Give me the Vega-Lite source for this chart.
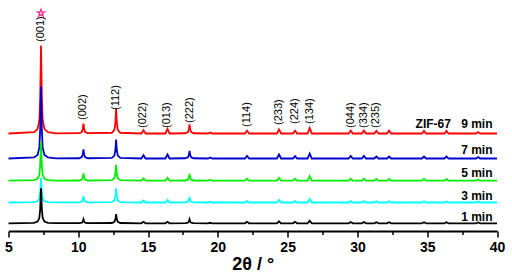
{
  "$schema": "https://vega.github.io/schema/vega-lite/v6.json",
  "width": 488.5,
  "height": 231,
  "autosize": "none",
  "padding": {"left": 8.5, "right": 15, "top": 0, "bottom": 43},
  "config": {"view": {"stroke": null}},
  "datasets": {
    "r9": [
      {"x":5,"y":97.5},{"x":6.83,"y":98.8},{"x":7.08,"y":101.9},{"x":7.21,"y":110.7},{"x":7.27,"y":132.7},{"x":7.33,"y":185.5},{"x":7.39,"y":132.7},{"x":7.45,"y":110.7},{"x":7.58,"y":101.9},{"x":7.83,"y":98.8},{"x":8.4,"y":97.6},
      {"x":10.07,"y":97.8},{"x":10.25,"y":99},{"x":10.32,"y":102},{"x":10.37,"y":107.5},{"x":10.42,"y":102},{"x":10.49,"y":99},{"x":10.67,"y":97.8},
      {"x":12.41,"y":98.25},{"x":12.59,"y":101.25},{"x":12.66,"y":108.75},{"x":12.71,"y":122.5},{"x":12.76,"y":108.75},{"x":12.83,"y":101.25},{"x":13.01,"y":98.25},
      {"x":14.52,"y":97.5},{"x":14.67,"y":100.8},{"x":14.82,"y":97.5},
      {"x":16.24,"y":97.5},{"x":16.39,"y":102},{"x":16.54,"y":97.5},
      {"x":17.67,"y":97.77},{"x":17.85,"y":98.85},{"x":17.92,"y":101.55},{"x":17.97,"y":106.5},{"x":18.02,"y":101.55},{"x":18.09,"y":98.85},{"x":18.27,"y":97.77},
      {"x":19.3,"y":97.5},{"x":19.45,"y":98.5},{"x":19.6,"y":97.5},
      {"x":21.94,"y":97.5},{"x":22.09,"y":100.2},{"x":22.24,"y":97.5},
      {"x":24.23,"y":97.5},{"x":24.38,"y":101.5},{"x":24.53,"y":97.5},
      {"x":25.38,"y":97.5},{"x":25.53,"y":100.2},{"x":25.68,"y":97.5},
      {"x":26.43,"y":97.5},{"x":26.58,"y":103},{"x":26.73,"y":97.5},
      {"x":29.37,"y":97.5},{"x":29.52,"y":100.5},{"x":29.67,"y":97.5},
      {"x":30.31,"y":97.5},{"x":30.46,"y":100.5},{"x":30.61,"y":97.5},
      {"x":31.21,"y":97.5},{"x":31.36,"y":100},{"x":31.51,"y":97.5},
      {"x":32.12,"y":97.5},{"x":32.27,"y":100.5},{"x":32.42,"y":97.5},
      {"x":34.62,"y":97.5},{"x":34.77,"y":100},{"x":34.92,"y":97.5},
      {"x":36.23,"y":97.5},{"x":36.38,"y":100},{"x":36.53,"y":97.5},
      {"x":38.5,"y":97.5},{"x":38.65,"y":99},{"x":38.8,"y":97.5},
      {"x":40,"y":97.5}
    ],
    "b7": [
      {"x":5,"y":72.5},{"x":6.83,"y":73.6},{"x":7.08,"y":76.1},{"x":7.21,"y":83.3},{"x":7.27,"y":101.3},{"x":7.33,"y":144.5},{"x":7.39,"y":101.3},{"x":7.45,"y":83.3},{"x":7.58,"y":76.1},{"x":7.83,"y":73.6},{"x":8.4,"y":72.6},
      {"x":10.07,"y":72.77},{"x":10.25,"y":73.85},{"x":10.32,"y":76.55},{"x":10.37,"y":81.5},{"x":10.42,"y":76.55},{"x":10.49,"y":73.85},{"x":10.67,"y":72.77},
      {"x":12.41,"y":73.07},{"x":12.59,"y":75.35},{"x":12.66,"y":81.05},{"x":12.71,"y":91.5},{"x":12.76,"y":81.05},{"x":12.83,"y":75.35},{"x":13.01,"y":73.07},
      {"x":14.52,"y":72.5},{"x":14.67,"y":75.8},{"x":14.82,"y":72.5},
      {"x":16.24,"y":72.5},{"x":16.39,"y":76.5},{"x":16.54,"y":72.5},
      {"x":17.67,"y":72.73},{"x":17.85,"y":73.64},{"x":17.92,"y":75.92},{"x":17.97,"y":80.1},{"x":18.02,"y":75.92},{"x":18.09,"y":73.64},{"x":18.27,"y":72.73},
      {"x":19.3,"y":72.5},{"x":19.45,"y":73.5},{"x":19.6,"y":72.5},
      {"x":21.94,"y":72.5},{"x":22.09,"y":75},{"x":22.24,"y":72.5},
      {"x":24.23,"y":72.5},{"x":24.38,"y":76.5},{"x":24.53,"y":72.5},
      {"x":25.38,"y":72.5},{"x":25.53,"y":74.8},{"x":25.68,"y":72.5},
      {"x":26.43,"y":72.5},{"x":26.58,"y":77.5},{"x":26.73,"y":72.5},
      {"x":29.37,"y":72.5},{"x":29.52,"y":75},{"x":29.67,"y":72.5},
      {"x":30.31,"y":72.5},{"x":30.46,"y":75},{"x":30.61,"y":72.5},
      {"x":31.21,"y":72.5},{"x":31.36,"y":74.5},{"x":31.51,"y":72.5},
      {"x":32.12,"y":72.5},{"x":32.27,"y":74.5},{"x":32.42,"y":72.5},
      {"x":34.62,"y":72.5},{"x":34.77,"y":74.5},{"x":34.92,"y":72.5},
      {"x":36.23,"y":72.5},{"x":36.38,"y":74.5},{"x":36.53,"y":72.5},
      {"x":38.5,"y":72.5},{"x":38.65,"y":74},{"x":38.8,"y":72.5},
      {"x":40,"y":72.5}
    ],
    "g5": [
      {"x":5,"y":50.3},{"x":6.83,"y":50.9},{"x":7.08,"y":52.25},{"x":7.21,"y":56.15},{"x":7.27,"y":65.9},{"x":7.33,"y":89.3},{"x":7.39,"y":65.9},{"x":7.45,"y":56.15},{"x":7.58,"y":52.25},{"x":7.83,"y":50.9},{"x":8.4,"y":50.4},
      {"x":10.07,"y":50.52},{"x":10.25,"y":51.41},{"x":10.32,"y":53.63},{"x":10.37,"y":57.7},{"x":10.42,"y":53.63},{"x":10.49,"y":51.41},{"x":10.67,"y":50.52},
      {"x":12.41,"y":50.78},{"x":12.59,"y":52.7},{"x":12.66,"y":57.5},{"x":12.71,"y":66.3},{"x":12.76,"y":57.5},{"x":12.83,"y":52.7},{"x":13.01,"y":50.78},
      {"x":14.52,"y":50.3},{"x":14.67,"y":52.6},{"x":14.82,"y":50.3},
      {"x":16.24,"y":50.3},{"x":16.39,"y":53.3},{"x":16.54,"y":50.3},
      {"x":17.67,"y":50.5},{"x":17.85,"y":51.3},{"x":17.92,"y":53.3},{"x":17.97,"y":57},{"x":18.02,"y":53.3},{"x":18.09,"y":51.3},{"x":18.27,"y":50.5},
      {"x":19.3,"y":50.3},{"x":19.45,"y":51.1},{"x":19.6,"y":50.3},
      {"x":21.94,"y":50.3},{"x":22.09,"y":52.3},{"x":22.24,"y":50.3},
      {"x":24.23,"y":50.3},{"x":24.38,"y":53.3},{"x":24.53,"y":50.3},
      {"x":25.38,"y":50.3},{"x":25.53,"y":52.3},{"x":25.68,"y":50.3},
      {"x":26.43,"y":50.3},{"x":26.58,"y":54.8},{"x":26.73,"y":50.3},
      {"x":29.37,"y":50.3},{"x":29.52,"y":52.3},{"x":29.67,"y":50.3},
      {"x":30.31,"y":50.3},{"x":30.46,"y":52.3},{"x":30.61,"y":50.3},
      {"x":31.21,"y":50.3},{"x":31.36,"y":52},{"x":31.51,"y":50.3},
      {"x":32.12,"y":50.3},{"x":32.27,"y":52},{"x":32.42,"y":50.3},
      {"x":34.62,"y":50.3},{"x":34.77,"y":52},{"x":34.92,"y":50.3},
      {"x":36.23,"y":50.3},{"x":36.38,"y":51.8},{"x":36.53,"y":50.3},
      {"x":38.5,"y":50.3},{"x":38.65,"y":51.5},{"x":38.8,"y":50.3},
      {"x":40,"y":50.3}
    ],
    "c3": [
      {"x":5,"y":28.5},{"x":6.83,"y":28.9},{"x":7.08,"y":29.7},{"x":7.21,"y":32.2},{"x":7.27,"y":38.3},{"x":7.33,"y":53},{"x":7.39,"y":38.3},{"x":7.45,"y":32.2},{"x":7.58,"y":29.7},{"x":7.83,"y":28.9},{"x":8.4,"y":28.6},
      {"x":10.07,"y":28.69},{"x":10.25,"y":29.45},{"x":10.32,"y":31.34},{"x":10.37,"y":34.8},{"x":10.42,"y":31.34},{"x":10.49,"y":29.45},{"x":10.67,"y":28.69},
      {"x":12.41,"y":28.92},{"x":12.59,"y":30.6},{"x":12.66,"y":34.8},{"x":12.71,"y":42.5},{"x":12.76,"y":34.8},{"x":12.83,"y":30.6},{"x":13.01,"y":28.92},
      {"x":14.52,"y":28.5},{"x":14.67,"y":30.5},{"x":14.82,"y":28.5},
      {"x":16.24,"y":28.5},{"x":16.39,"y":31},{"x":16.54,"y":28.5},
      {"x":17.67,"y":28.67},{"x":17.85,"y":29.33},{"x":17.92,"y":30.98},{"x":17.97,"y":34},{"x":18.02,"y":30.98},{"x":18.09,"y":29.33},{"x":18.27,"y":28.67},
      {"x":19.3,"y":28.5},{"x":19.45,"y":29.2},{"x":19.6,"y":28.5},
      {"x":21.94,"y":28.5},{"x":22.09,"y":30},{"x":22.24,"y":28.5},
      {"x":24.23,"y":28.5},{"x":24.38,"y":31},{"x":24.53,"y":28.5},
      {"x":25.38,"y":28.5},{"x":25.53,"y":30},{"x":25.68,"y":28.5},
      {"x":26.43,"y":28.5},{"x":26.58,"y":32},{"x":26.73,"y":28.5},
      {"x":29.37,"y":28.5},{"x":29.52,"y":30},{"x":29.67,"y":28.5},
      {"x":30.31,"y":28.5},{"x":30.46,"y":30},{"x":30.61,"y":28.5},
      {"x":31.21,"y":28.5},{"x":31.36,"y":29.7},{"x":31.51,"y":28.5},
      {"x":32.12,"y":28.5},{"x":32.27,"y":29.7},{"x":32.42,"y":28.5},
      {"x":34.62,"y":28.5},{"x":34.77,"y":29.7},{"x":34.92,"y":28.5},
      {"x":36.23,"y":28.5},{"x":36.38,"y":29.5},{"x":36.53,"y":28.5},
      {"x":38.5,"y":28.5},{"x":38.65,"y":29.5},{"x":38.8,"y":28.5},
      {"x":40,"y":28.5}
    ],
    "k1": [
      {"x":5,"y":7.7},{"x":6.83,"y":8.2},{"x":7.08,"y":9.45},{"x":7.21,"y":12.95},{"x":7.27,"y":21.7},{"x":7.33,"y":42.7},{"x":7.39,"y":21.7},{"x":7.45,"y":12.95},{"x":7.58,"y":9.45},{"x":7.83,"y":8.2},{"x":8.4,"y":7.8},
      {"x":10.07,"y":7.82},{"x":10.25,"y":8.3},{"x":10.32,"y":9.5},{"x":10.37,"y":11.7},{"x":10.42,"y":9.5},{"x":10.49,"y":8.3},{"x":10.67,"y":7.82},
      {"x":12.41,"y":7.98},{"x":12.59,"y":9.1},{"x":12.66,"y":11.89},{"x":12.71,"y":17},{"x":12.76,"y":11.89},{"x":12.83,"y":9.1},{"x":13.01,"y":7.98},
      {"x":14.52,"y":7.7},{"x":14.67,"y":9.2},{"x":14.82,"y":7.7},
      {"x":16.24,"y":7.7},{"x":16.39,"y":9.2},{"x":16.54,"y":7.7},
      {"x":17.67,"y":7.82},{"x":17.85,"y":8.3},{"x":17.92,"y":9.5},{"x":17.97,"y":11.7},{"x":18.02,"y":9.5},{"x":18.09,"y":8.3},{"x":18.27,"y":7.82},
      {"x":19.3,"y":7.7},{"x":19.45,"y":8.2},{"x":19.6,"y":7.7},
      {"x":21.94,"y":7.7},{"x":22.09,"y":9.2},{"x":22.24,"y":7.7},
      {"x":24.23,"y":7.7},{"x":24.38,"y":9.7},{"x":24.53,"y":7.7},
      {"x":25.38,"y":7.7},{"x":25.53,"y":9.2},{"x":25.68,"y":7.7},
      {"x":26.43,"y":7.7},{"x":26.58,"y":10.4},{"x":26.73,"y":7.7},
      {"x":29.37,"y":7.7},{"x":29.52,"y":9},{"x":29.67,"y":7.7},
      {"x":30.31,"y":7.7},{"x":30.46,"y":9},{"x":30.61,"y":7.7},
      {"x":31.21,"y":7.7},{"x":31.36,"y":8.7},{"x":31.51,"y":7.7},
      {"x":32.12,"y":7.7},{"x":32.27,"y":8.7},{"x":32.42,"y":7.7},
      {"x":34.62,"y":7.7},{"x":34.77,"y":8.7},{"x":34.92,"y":7.7},
      {"x":36.23,"y":7.7},{"x":36.38,"y":8.7},{"x":36.53,"y":7.7},
      {"x":38.5,"y":7.7},{"x":38.65,"y":8.5},{"x":38.8,"y":7.7},
      {"x":40,"y":7.7}
    ],
    "rules": [{"x":6.13},{"x":8.64}],
    "hkl": [
      {"t":"(001)","x":7.33,"y":189},
      {"t":"(002)","x":10.37,"y":111},
      {"t":"(112)","x":12.71,"y":121},
      {"t":"(022)","x":14.67,"y":103},
      {"t":"(013)","x":16.39,"y":103},
      {"t":"(222)","x":17.97,"y":108},
      {"t":"(114)","x":22.09,"y":104},
      {"t":"(233)","x":24.38,"y":106},
      {"t":"(224)","x":25.53,"y":107},
      {"t":"(134)","x":26.58,"y":107},
      {"t":"(044)","x":29.52,"y":103},
      {"t":"(334)","x":30.46,"y":103},
      {"t":"(235)","x":31.36,"y":103}
    ],
    "series": [
      {"t":"9 min","x":39.68,"y":107},
      {"t":"7 min","x":39.68,"y":81.5},
      {"t":"5 min","x":39.68,"y":57.7},
      {"t":"3 min","x":39.68,"y":35},
      {"t":"1 min","x":39.68,"y":14.3},
      {"t":"ZIF-67","x":36.7,"y":107}
    ],
    "star": [{"x":7.33,"y":218}]
  },
  "encoding": {
    "x": {
      "field": "x", "type": "quantitative",
      "scale": {"domain": [5, 40], "nice": false, "zero": false},
      "axis": {
        "values": [5,7.5,10,12.5,15,17.5,20,22.5,25,27.5,30,32.5,35,37.5,40],
        "labelExpr": "datum.value % 5 === 0 ? datum.label : ''",
        "tickSize": {"condition": {"test": "datum.value % 5 === 0", "value": 6}, "value": 3.5},
        "title": "2θ / °",
        "grid": false,
        "domainColor": "#000", "domainWidth": 2,
        "tickColor": "#000", "tickWidth": 1.5,
        "labelFontSize": 14, "labelFontWeight": "bold", "labelColor": "#000", "labelFont": "Liberation Sans",
        "labelPadding": 3, "labelFlush": false, "labelOverlap": false,
        "titleFontSize": 18, "titleFontWeight": "bold", "titleFont": "Liberation Sans", "titleColor": "#000",
        "titlePadding": 1
      }
    },
    "y": {
      "field": "y", "type": "quantitative",
      "scale": {"domain": [0, 231], "nice": false, "zero": false},
      "axis": null
    }
  },
  "layer": [
    {
      "data": {"name": "rules"},
      "mark": {"type": "rule", "color": "#808080", "strokeWidth": 1, "strokeDash": [5, 2, 1, 2]},
      "encoding": {"y": {"datum": 231}, "y2": {"datum": 0}}
    },
    {"data": {"name": "r9"}, "mark": {"type": "line", "color": "#ff0000", "strokeWidth": 1.8}},
    {"data": {"name": "b7"}, "mark": {"type": "line", "color": "#0000cc", "strokeWidth": 1.8}},
    {"data": {"name": "g5"}, "mark": {"type": "line", "color": "#00ee00", "strokeWidth": 1.8}},
    {"data": {"name": "c3"}, "mark": {"type": "line", "color": "#00ffff", "strokeWidth": 1.8}},
    {"data": {"name": "k1"}, "mark": {"type": "line", "color": "#000000", "strokeWidth": 1.8}},
    {
      "data": {"name": "hkl"},
      "mark": {"type": "text", "angle": 270, "align": "left", "baseline": "middle", "fontSize": 11, "font": "Liberation Sans", "color": "#000"},
      "encoding": {"text": {"field": "t"}}
    },
    {
      "data": {"name": "series"},
      "mark": {"type": "text", "align": "right", "baseline": "middle", "fontSize": 12, "fontWeight": "bold", "font": "Liberation Sans", "color": "#000"},
      "encoding": {"text": {"field": "t"}}
    },
    {
      "data": {"name": "star"},
      "mark": {"type": "point", "filled": false, "size": 60, "strokeWidth": 1.2, "color": "#f0308c", "opacity": 1,
        "shape": "M0,-1L0.2245,-0.309L0.9511,-0.309L0.3633,0.118L0.5878,0.809L0,0.382L-0.5878,0.809L-0.3633,0.118L-0.9511,-0.309L-0.2245,-0.309Z"}
    }
  ]
}
